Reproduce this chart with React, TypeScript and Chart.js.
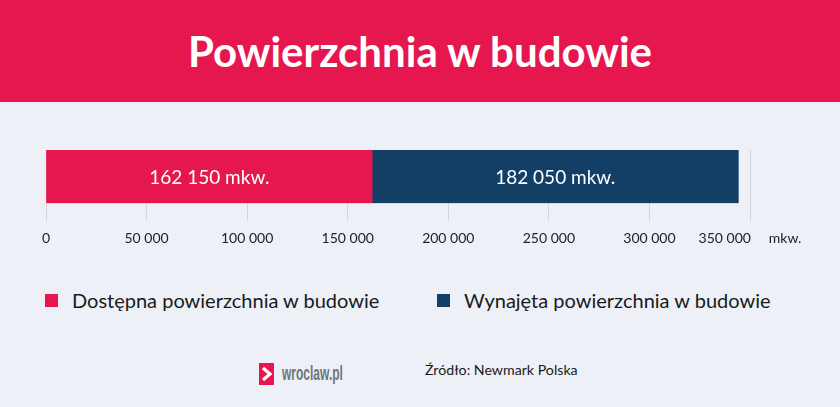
import React, { useEffect, useRef } from "react";
import { Chart, registerables } from "chart.js";

Chart.register(...registerables);

const title = "Powierzchnia w budowie";
const categories = ["Powierzchnia w budowie"];
const seriesLabels = ["Dostępna powierzchnia w budowie", "Wynajęta powierzchnia w budowie"];
const availableValues = [162150];
const leasedValues = [182050];
const seriesColors = ["#E6174F", "#133F67"];
const axisMin = 0;
const axisMax = 350000;
const axisStep = 50000;
const unitLabel = "mkw.";
const sourceText = "Źródło: Newmark Polska";
const logoText = "wroclaw.pl";

const FONT = "Lato, 'Noto Sans', sans-serif";

const fmt = (v: number) => String(Math.round(v)).replace(/\B(?=(\d{3})+(?!\d))/g, " ");

const barLabelPlugin = {
  id: "barLabels",
  afterDatasetsDraw(chart: any) {
    const ctx = chart.ctx;
    ctx.save();
    ctx.fillStyle = "#ffffff";
    ctx.font = `19px ${FONT}`;
    ctx.textAlign = "center";
    ctx.textBaseline = "middle";
    chart.data.datasets.forEach((ds: any, di: number) => {
      const meta = chart.getDatasetMeta(di);
      meta.data.forEach((el: any, i: number) => {
        const v = ds.data[i];
        const cx = (el.x + el.base) / 2;
        ctx.fillText(`${fmt(v)} ${unitLabel}`, cx, el.y + 1);
      });
    });
    ctx.restore();
  },
};

function BarChart() {
  const ref = useRef<HTMLCanvasElement | null>(null);
  useEffect(() => {
    if (!ref.current) return;
    const chart = new Chart(ref.current, {
      type: "bar",
      data: {
        labels: categories,
        datasets: [
          {
            label: seriesLabels[0],
            data: availableValues,
            backgroundColor: seriesColors[0],
            borderWidth: 0,
            barPercentage: 1,
            categoryPercentage: 1,
          },
          {
            label: seriesLabels[1],
            data: leasedValues,
            backgroundColor: seriesColors[1],
            borderWidth: 0,
            barPercentage: 1,
            categoryPercentage: 1,
          },
        ],
      },
      options: {
        indexAxis: "y",
        animation: false,
        responsive: false,
        maintainAspectRatio: false,
        layout: { padding: { left: 46, right: 90, top: 48, bottom: 6 } },
        plugins: {
          legend: { display: false },
          tooltip: { enabled: false },
          title: { display: false },
        },
        scales: {
          x: {
            type: "linear",
            stacked: true,
            min: axisMin,
            max: axisMax,
            border: { display: false },
            grid: {
              color: "#d2d5db",
              lineWidth: 1,
              tickLength: 18,
              drawOnChartArea: true,
            },
            ticks: {
              stepSize: axisStep,
              padding: 9,
              color: "#222222",
              font: { family: FONT, size: 14 },
              maxRotation: 0,
              autoSkip: false,
              callback: (v: any) =>
                Number(v) === axisMax ? `${fmt(Number(v))}     ${unitLabel}` : fmt(Number(v)),
            },
          },
          y: {
            type: "category",
            stacked: true,
            display: false,
          },
        },
      },
      plugins: [barLabelPlugin],
    } as any);
    return () => chart.destroy();
  }, []);
  return (
    <canvas
      ref={ref}
      width={840}
      height={160}
      style={{ position: "absolute", left: 0, top: 102, width: 840, height: 160 }}
    />
  );
}

export default function App() {
  useEffect(() => {
    document.body.style.margin = "0";
  }, []);
  return (
    <div
      style={{
        position: "relative",
        width: 840,
        height: 407,
        background: "#EDF0F7",
        overflow: "hidden",
        fontFamily: FONT,
      }}
    >
      <div
        style={{
          position: "absolute",
          left: 0,
          top: 0,
          width: 840,
          height: 102,
          background: "#E6174F",
          color: "#fff",
          fontWeight: 700,
          fontSize: 42,
          lineHeight: "102px",
          textAlign: "center",
        }}
      >
        {title}
      </div>
      <BarChart />
      {seriesLabels.map((lab, i) => (
        <div
          key={lab}
          style={{
            position: "absolute",
            left: i === 0 ? 45 : 437,
            top: 288,
            height: 24,
            display: "flex",
            alignItems: "center",
            fontSize: 20,
            color: "#1a1a1a",
            whiteSpace: "nowrap",
          }}
        >
          <span
            style={{
              display: "inline-block",
              width: 13,
              height: 13,
              background: seriesColors[i],
              marginRight: 14,
            }}
          />
          {lab}
        </div>
      ))}
      <div
        style={{
          position: "absolute",
          left: 259,
          top: 363,
          width: 15,
          height: 22,
          background: "#E6174F",
        }}
      >
        <svg width={15} height={22} viewBox="0 0 15 22" style={{ display: "block" }}>
          <polyline points="4,5 11,11 4,17" fill="none" stroke="#fff" strokeWidth={3.2} />
        </svg>
      </div>
      <div
        style={{
          position: "absolute",
          left: 282,
          top: 361,
          fontFamily: "'Liberation Sans', Arial, sans-serif",
          fontWeight: 700,
          fontSize: 20,
          lineHeight: "24px",
          color: "#70747a",
          transform: "scaleX(0.6)",
          transformOrigin: "0 0",
          whiteSpace: "nowrap",
        }}
      >
        {logoText}
      </div>
      <div
        style={{
          position: "absolute",
          left: 425,
          top: 360,
          fontSize: 14.2,
          lineHeight: "20px",
          color: "#1a1a1a",
          whiteSpace: "nowrap",
        }}
      >
        {sourceText}
      </div>
    </div>
  );
}
